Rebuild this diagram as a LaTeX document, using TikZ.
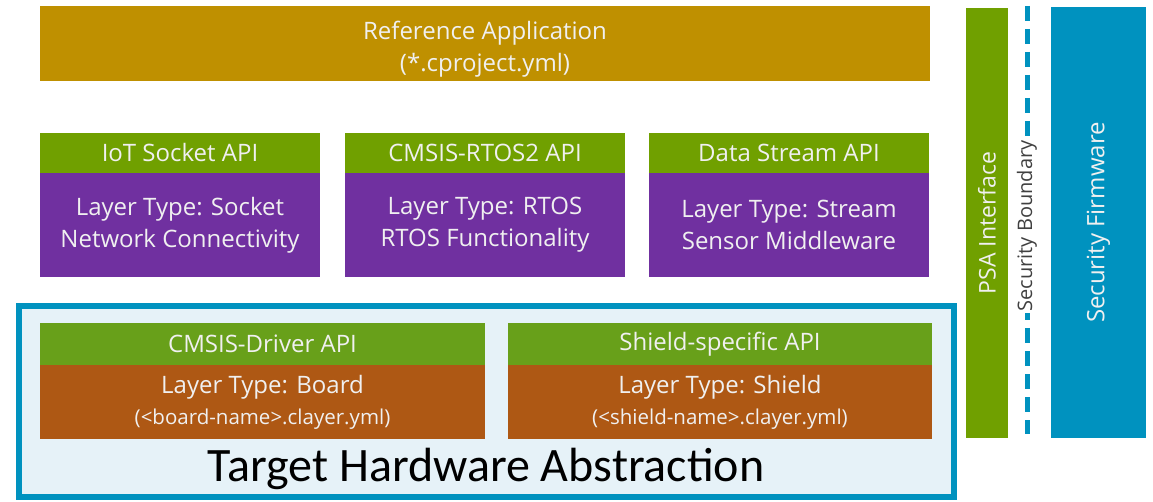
\documentclass[tikz,border=0pt]{standalone}
\usepackage{fontspec}
\setmainfont{Open Sans}
\newfontfamily\calfont{Carlito}
\definecolor{appgold}{HTML}{BF9000}
\definecolor{apigreen}{HTML}{70A000}
\definecolor{hwgreen}{HTML}{68A01A}
\definecolor{layerpurple}{HTML}{7030A0}
\definecolor{boardbrown}{HTML}{AE5814}
\definecolor{secblue}{HTML}{0092BF}
\definecolor{hwfill}{HTML}{E6F2F8}

\begin{document}
\begin{tikzpicture}[
    x=1pt,y=-1pt,
    block/.style={anchor=north west,inner sep=0pt,outer sep=0pt,align=center,
      text=white!94!black,font=\fontsize{24}{32}\selectfont},
    api/.style={block,fill=apigreen,minimum width=280pt,minimum height=40pt},
    layer/.style={block,fill=layerpurple,minimum width=280pt,minimum height=104pt},
    hwapi/.style={block,fill=hwgreen,minimum width=#1,minimum height=42pt},
    board/.style={block,fill=boardbrown,minimum width=#1,minimum height=74pt}
    ]
    \useasboundingbox (0,0) rectangle (1153,502);
    % application on top
    \node[block,fill=appgold,minimum width=890pt,minimum height=75pt] (app) at (40,6)
      {\rule{0pt}{30pt}Reference Application\\(*.cproject.yml)};
    % middleware layers
    \node[api] (sockapi) at (40,133) {IoT Socket API};
    \node[layer] (socket) at (40,173) {Layer Type: Socket\\Network Connectivity};
    \node[api] (rtosapi) at (345,133) {CMSIS-RTOS2 API};
    \node[layer] (rtos) at (345,173) {Layer Type: RTOS\\RTOS Functionality};
    \node[api] (streamapi) at (649,133) {Data Stream API};
    \node[layer] (stream) at (649,173) {Layer Type: Stream\\Sensor Middleware};
    % hardware abstraction
    \draw[secblue,fill=hwfill,line width=6pt] (19,306) rectangle (954,497);
    \node[hwapi=445pt] (drvapi) at (40,323) {CMSIS-Driver API};
    \node[board=445pt] (board) at (40,365)
      {Layer Type: Board\\[-1pt]{\fontsize{20.5}{27}\selectfont(<board-name>.clayer.yml)}};
    \node[hwapi=424pt] (shieldapi) at (508,323) {Shield-specific API};
    \node[board=424pt] (shield) at (508,365)
      {Layer Type: Shield\\[-1pt]{\fontsize{20.5}{27}\selectfont(<shield-name>.clayer.yml)}};
    \node[font=\calfont\fontsize{48}{50}\selectfont,inner sep=0pt,anchor=base] (hwlabel) at (486,481)
      {Target Hardware Abstraction};
    % security side
    \node[block,fill=apigreen,minimum width=42pt,minimum height=430pt] (psa) at (966,8) {};
    \node[rotate=90,text=white!94!black,font=\fontsize{23}{31}\selectfont] at (psa.center)
      {PSA Interface};
    \draw[secblue,line width=5pt,dash pattern=on 15pt off 8pt] (1027,6) -- (1027,434);
    \node[rotate=90,fill=white,inner sep=2pt,text=black!75,font=\fontsize{20}{24}\selectfont]
      (boundary) at (1027,226) {Security Boundary};
    \node[block,fill=secblue,minimum width=95pt,minimum height=431pt] (firmware) at (1051,7) {};
    \node[rotate=90,text=white!94!black,font=\fontsize{24}{31}\selectfont] at (firmware.center)
      {Security Firmware};
\end{tikzpicture}
\end{document}
